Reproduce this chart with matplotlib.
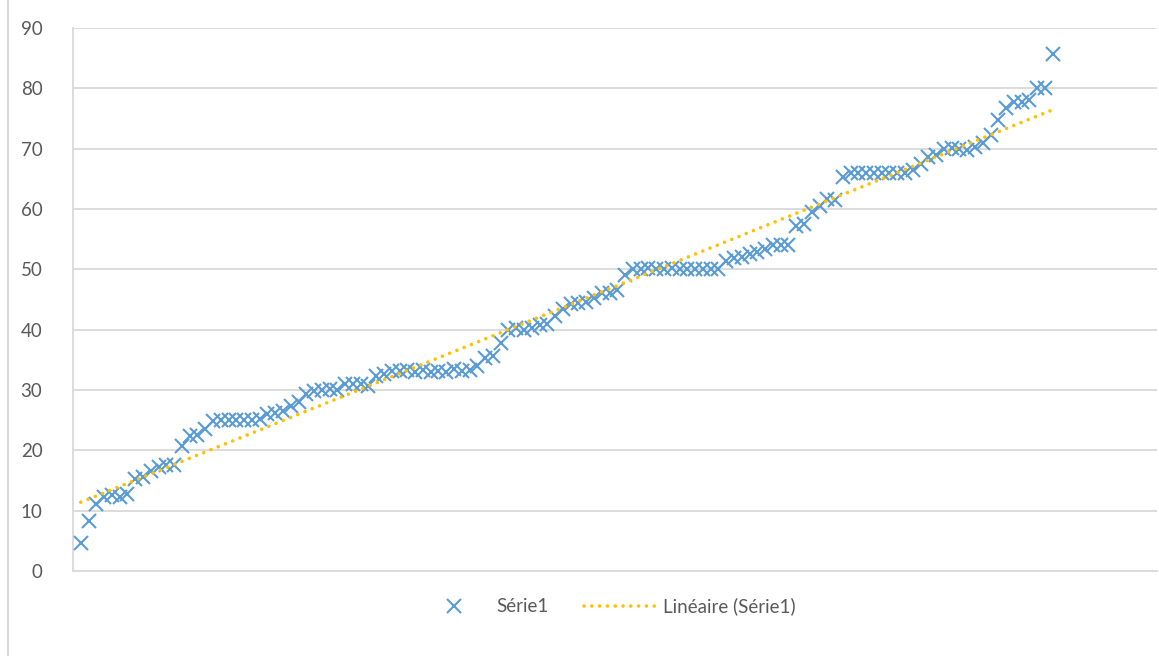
import matplotlib
matplotlib.use("Agg")
import matplotlib.pyplot as plt
import numpy as np
from matplotlib.lines import Line2D

# measured values, in order of observation
serie1 = [
    4.6, 8.3, 11.1, 12.2, 12.6, 12.3, 12.8, 15.2, 15.5, 16.5,
    17.3, 17.5, 17.5, 20.8, 22.3, 22.5, 23.5, 24.8, 25.0, 25.0,
    25.0, 25.0, 25.0, 25.2, 26.0, 26.2, 26.6, 27.3, 28.0, 29.3,
    29.8, 30.0, 30.2, 30.0, 31.0, 31.0, 31.0, 30.6, 32.3, 32.6,
    33.2, 33.2, 33.3, 33.0, 33.3, 33.0, 33.2, 33.0, 33.4, 33.2,
    33.3, 34.0, 35.3, 35.7, 37.8, 40.0, 40.2, 40.0, 40.3, 40.8,
    41.0, 42.2, 43.5, 44.3, 44.5, 44.6, 45.3, 46.0, 46.0, 46.5,
    49.0, 50.0, 50.0, 50.2, 50.0, 50.0, 50.2, 50.0, 50.0, 50.0,
    50.0, 50.0, 50.0, 51.3, 51.8, 52.1, 52.5, 52.8, 53.3, 54.0,
    54.0, 54.0, 57.2, 57.5, 59.5, 60.5, 61.6, 61.5, 65.3, 66.0,
    66.0, 66.0, 66.0, 66.0, 66.0, 66.0, 66.0, 66.5, 67.5, 68.7,
    69.0, 70.0, 70.1, 70.0, 69.8, 70.2, 71.0, 72.3, 74.8, 76.8,
    77.8, 77.8, 78.0, 80.0, 80.0, 85.7,
]
y_ticks = [0, 10, 20, 30, 40, 50, 60, 70, 80, 90]

BLUE = "#5B9BD5"
GOLD = "#FFC000"
GRID = "#D9D9D9"
TEXT = "#595959"
DOTS = (0, (0.01, 2.15))

plt.rcParams["font.family"] = ["Lato", "DejaVu Sans"]

x = np.arange(1, len(serie1) + 1)
y = np.array(serie1)
slope, intercept = np.polyfit(x, y, 1)
trend_x = np.array([x[0], x[-1]])
trend_y = slope * trend_x + intercept

fig = plt.figure(figsize=(11.59, 6.56), dpi=100)
ax = fig.add_axes([73 / 1159, 85 / 656, 1084 / 1159, 543 / 656])

ax.plot(x, y, linestyle="none", marker="x", markersize=10,
        markeredgewidth=1.5, color=BLUE, zorder=3)
ax.plot(trend_x, trend_y, color=GOLD, linewidth=2.6,
        linestyle=DOTS, dash_capstyle="round", zorder=4)

ax.set_xlim(0, 139.4)
ax.set_ylim(0, 90)
ax.set_yticks(y_ticks)
ax.set_xticks([])
ax.yaxis.grid(True, color=GRID, linewidth=1.3)
ax.set_axisbelow(True)
ax.tick_params(axis="y", length=0, pad=22, labelsize=13.5, labelcolor=TEXT)

for side in ("top", "right"):
    ax.spines[side].set_visible(False)
ax.spines["left"].set_color(GRID)
ax.spines["left"].set_linewidth(1.3)
ax.spines["bottom"].set_color(GRID)
ax.spines["bottom"].set_linewidth(1.3)

# chart-area frame on the left side
fig.add_artist(Line2D([8 / 1159, 8 / 1159], [0, 1], color=GRID, linewidth=1.5))

handles = [
    Line2D([], [], linestyle="none", marker="x", markersize=10,
           markeredgewidth=1.5, color=BLUE),
    Line2D([], [], color=GOLD, linewidth=2.6,
           linestyle=DOTS, dash_capstyle="round"),
]
fig.legend(handles, ["Série1", "Linéaire (Série1)"], loc="center",
           bbox_to_anchor=(0.523, 0.076), ncol=2, frameon=False,
           fontsize=13.5, labelcolor=TEXT, handlelength=3.9,
           handletextpad=0.3, columnspacing=1.9)

fig.savefig("out.png", dpi=100)
